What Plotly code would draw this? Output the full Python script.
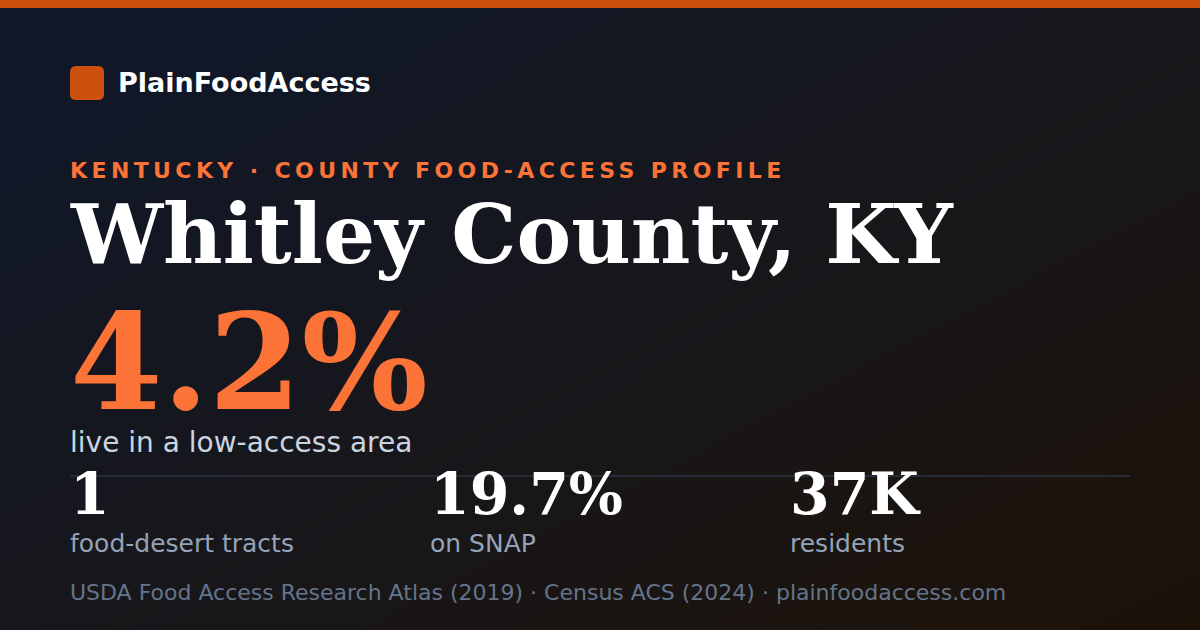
import plotly.graph_objects as go

W, H = 1200, 630

# text content of the card
brand = "PlainFoodAccess"
kicker = "KENTUCKY · COUNTY FOOD-ACCESS PROFILE"
county = "Whitley County, KY"
headline_value = "4.2%"
headline_label = "live in a low-access area"
stat_values = ["1", "19.7%", "37K"]
stat_labels = ["food-desert tracts", "on SNAP", "residents"]
stat_x = [70, 430, 790]
footer = "USDA Food Access Research Atlas (2019) · Census ACS (2024) · plainfoodaccess.com"

ORANGE_DARK = "#cc500e"
ORANGE = "#fb7337"
SANS = "DejaVu Sans"
SERIF = "DejaVu Serif"

fig = go.Figure()

# diagonal background gradient: navy top-left -> dark brown bottom-right
fig.add_trace(go.Heatmap(
    x=[0, W],
    y=[0, H],
    z=[[0, 0.5], [0.5, 1]],
    zsmooth="best",
    colorscale=[[0, "#0f172a"], [0.5, "#17171c"], [1, "#1d1208"]],
    showscale=False,
    hoverinfo="skip",
))


def text(x, baseline, s, size, color, family=SANS, weight="normal"):
    # yanchor middle puts the baseline roughly 0.35em below the anchor
    fig.add_annotation(
        x=x, y=baseline - 0.35 * size, xref="x", yref="y",
        text=s, showarrow=False, xanchor="left", yanchor="middle",
        font=dict(family=family, size=size, color=color, weight=weight),
        borderpad=0, borderwidth=0,
    )


text(118, 92, brand, 27, "#ffffff", weight="bold")
text(70, 178, '<span style="letter-spacing:4.4px">' + kicker + "</span>",
     22, ORANGE, weight="bold")
text(70, 263, county, 82, "#ffffff", family=SERIF, weight="bold")
text(70, 409, headline_value, 133, ORANGE, family=SERIF, weight="bold")
text(70, 452, headline_label, 28, "#cbd5e1")
for x, v, lab in zip(stat_x, stat_values, stat_labels):
    text(x, 513, v, 57, "#ffffff", family=SERIF, weight="bold")
    text(x, 552, lab, 25, "#94a3b8")
text(70, 600, footer, 22, "#64748b")

fig.update_layout(
    width=W, height=H,
    margin=dict(l=0, r=0, t=0, b=0),
    paper_bgcolor="#131722",
    plot_bgcolor="#131722",
    xaxis=dict(range=[0, W], visible=False, fixedrange=True),
    yaxis=dict(range=[H, 0], visible=False, fixedrange=True),
    hovermode=False,
    showlegend=False,
    shapes=[
        # top accent bar
        dict(type="rect", xref="x", yref="y", x0=0, x1=W, y0=0, y1=8,
             fillcolor=ORANGE_DARK, line_width=0, layer="above"),
        # rounded logo tile
        dict(type="path", xref="x", yref="y",
             path="M 76,66 L 98,66 Q 104,66 104,72 L 104,94 Q 104,100 98,100 "
                  "L 76,100 Q 70,100 70,94 L 70,72 Q 70,66 76,66 Z",
             fillcolor=ORANGE_DARK, line_width=0, layer="above"),
        # divider above the stats row
        dict(type="line", xref="x", yref="y", x0=70, x1=1130, y0=476, y1=476,
             line=dict(color="#272c37", width=2), layer="above"),
    ],
)

fig.write_html(
    "out.html",
    config={"displayModeBar": False},
    post_script="document.body.style.margin='0';",
)
